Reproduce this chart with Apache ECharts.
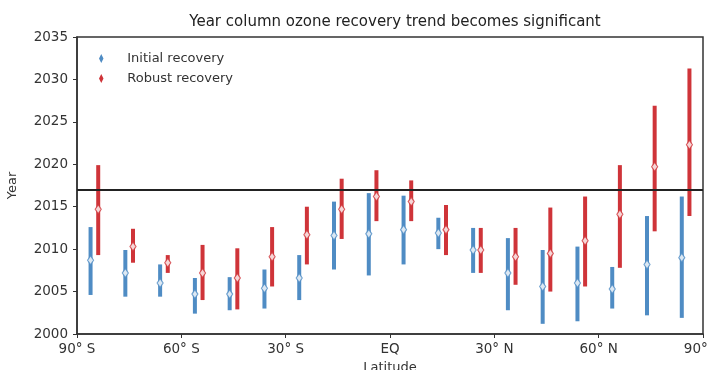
<!DOCTYPE html>
<html>
<head>
<meta charset="utf-8">
<script src="https://cdn.jsdelivr.net/npm/echarts@6/dist/echarts.min.js"></script>
<style>
html,body{margin:0;padding:0;background:#fff;overflow:hidden;}
#chart{width:713px;height:370px;}
</style>
</head>
<body>
<div id="chart"></div>
<script>
// Latitude band centres (degrees)
const latitudes = [-85, -75, -65, -55, -45, -35, -25, -15, -5, 5, 15, 25, 35, 45, 55, 65, 75, 85];
// Initial recovery: low / central / high year
const initialLow  = [2004.6, 2004.4, 2004.4, 2002.4, 2002.8, 2003.0, 2004.0, 2007.6, 2006.9, 2008.2, 2010.0, 2007.2, 2002.8, 2001.2, 2001.5, 2003.0, 2002.2, 2001.9];
const initialMid  = [2008.7, 2007.2, 2006.0, 2004.7, 2004.7, 2005.4, 2006.6, 2011.6, 2011.8, 2012.3, 2011.9, 2009.9, 2007.2, 2005.6, 2006.0, 2005.3, 2008.2, 2009.0];
const initialHigh = [2012.6, 2009.9, 2008.2, 2006.6, 2006.7, 2007.6, 2009.3, 2015.6, 2016.6, 2016.3, 2013.7, 2012.5, 2011.3, 2009.9, 2010.3, 2007.9, 2013.9, 2016.2];
// Robust recovery: low / central / high year
const robustLow   = [2009.3, 2008.4, 2007.2, 2004.0, 2002.9, 2005.6, 2008.2, 2011.2, 2013.3, 2013.3, 2009.3, 2007.2, 2005.8, 2005.0, 2005.6, 2007.8, 2012.1, 2013.9];
const robustMid   = [2014.7, 2010.3, 2008.4, 2007.2, 2006.6, 2009.1, 2011.7, 2014.7, 2016.2, 2015.6, 2012.3, 2009.9, 2009.1, 2009.5, 2011.0, 2014.1, 2019.7, 2022.3];
const robustHigh  = [2019.9, 2012.4, 2009.3, 2010.5, 2010.1, 2012.6, 2015.0, 2018.3, 2019.3, 2018.1, 2015.2, 2012.5, 2012.5, 2014.9, 2016.2, 2019.9, 2026.9, 2031.3];
// Reference year line
const referenceYear = 2017;
// Axis ticks
const xTicks = [-90, -60, -30, 0, 30, 60, 90];
const xTickLabels = ['90° S', '60° S', '30° S', 'EQ', '30° N', '60° N', '90° N'];

const BLUE = '#4f8cc4';
const RED = '#cf3439';
const OFFSET = 1.1;

function barData(lo, hi, off) {
  return latitudes.map((c, i) => [c + off, lo[i], hi[i]]);
}
function midData(mid, off) {
  return latitudes.map((c, i) => [c + off, mid[i]]);
}
function renderBar(color) {
  return function (params, api) {
    const x = api.value(0);
    const p1 = api.coord([x, api.value(1)]);
    const p2 = api.coord([x, api.value(2)]);
    const w = 4;
    return {
      type: 'rect',
      shape: {x: p1[0] - w / 2, y: p2[1], width: w, height: p1[1] - p2[1]},
      style: {fill: color}
    };
  };
}

const chart = echarts.init(document.getElementById('chart'), null, {renderer: 'canvas', width: 713, height: 370});
const fontFamily = 'DejaVu Sans, sans-serif';
chart.setOption({
  animation: false,
  backgroundColor: '#fff',
  textStyle: {fontFamily: fontFamily},
  title: {
    text: 'Year column ozone recovery trend becomes significant',
    left: 390, top: 10, textAlign: 'center',
    textStyle: {fontFamily: fontFamily, fontSize: 15, fontWeight: 'normal', color: '#222'}
  },
  legend: {
    left: 94, top: 46, orient: 'vertical', itemGap: 5,
    itemWidth: 10, itemHeight: 15,
    textStyle: {fontFamily: fontFamily, fontSize: 13, color: '#333', padding: [0, 0, 0, 16]},
    data: [
      {name: 'Initial recovery', icon: 'path://M5,0L5,20M5,4L8,10L5,16L2,10Z'},
      {name: 'Robust recovery', icon: 'path://M5,0L5,20M5,4L8,10L5,16L2,10Z'}
    ]
  },
  grid: {left: 77, right: 10, top: 37, bottom: 36, show: true, borderColor: '#333', borderWidth: 1.5,
         containLabel: false, outerBoundsMode: 'none'},
  xAxis: {
    type: 'value', min: -90, max: 90, interval: 30,
    name: 'Latitude', nameLocation: 'middle', nameGap: 27,
    nameTextStyle: {fontFamily: fontFamily, fontSize: 13, color: '#333'},
    axisLine: {show: true, onZero: false, lineStyle: {color: '#333', width: 1.5}},
    axisTick: {show: true, length: 4, lineStyle: {color: '#333'}},
    axisLabel: {
      fontFamily: fontFamily, fontSize: 13.5, color: '#333', margin: 8,
      formatter: v => { const k = xTicks.indexOf(v); return k >= 0 ? xTickLabels[k] : ''; }
    },
    splitLine: {show: false}
  },
  yAxis: {
    type: 'value', min: 2000, max: 2035, interval: 5,
    name: 'Year', nameLocation: 'middle', nameGap: 58,
    nameTextStyle: {fontFamily: fontFamily, fontSize: 13, color: '#333'},
    axisLine: {show: true, onZero: false, lineStyle: {color: '#333', width: 1.5}},
    axisTick: {show: true, length: 4, lineStyle: {color: '#333'}},
    axisLabel: {fontFamily: fontFamily, fontSize: 13.5, color: '#333', margin: 9, formatter: v => String(v)},
    splitLine: {show: false}
  },
  series: [
    {
      name: 'Initial recovery', type: 'custom', color: BLUE,
      renderItem: renderBar(BLUE), data: barData(initialLow, initialHigh, -OFFSET),
      encode: {x: 0, y: [1, 2]}, z: 2
    },
    {
      name: 'Robust recovery', type: 'custom', color: RED,
      renderItem: renderBar(RED), data: barData(robustLow, robustHigh, OFFSET),
      encode: {x: 0, y: [1, 2]}, z: 2,
      markLine: {
        silent: true, symbol: 'none', label: {show: false},
        lineStyle: {color: '#222', width: 2, type: 'solid'},
        data: [{yAxis: referenceYear}]
      }
    },
    {
      name: 'Initial recovery', type: 'scatter', color: BLUE,
      symbol: 'diamond', symbolSize: [6, 9],
      itemStyle: {color: '#fff', borderColor: BLUE, borderWidth: 1.2},
      data: midData(initialMid, -OFFSET), z: 3
    },
    {
      name: 'Robust recovery', type: 'scatter', color: RED,
      symbol: 'diamond', symbolSize: [6, 9],
      itemStyle: {color: '#fff', borderColor: RED, borderWidth: 1.2},
      data: midData(robustMid, OFFSET), z: 3
    }
  ]
});
</script>
</body>
</html>
